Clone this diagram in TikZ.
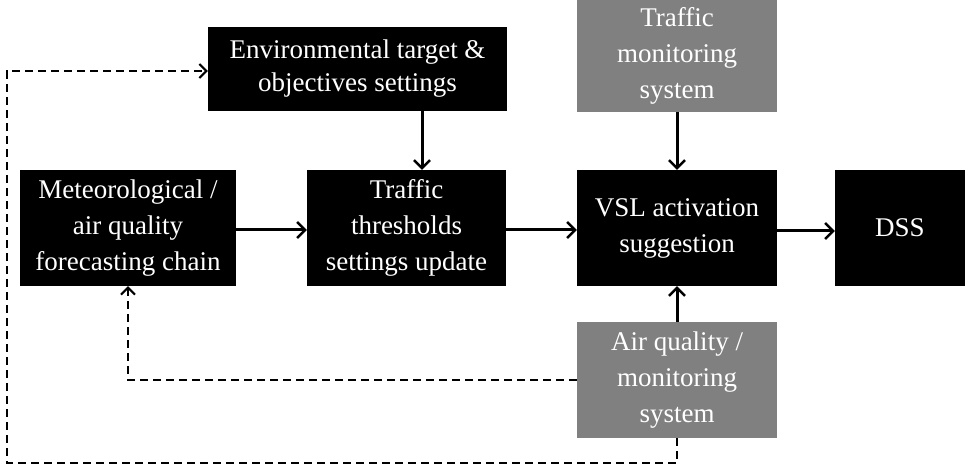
\documentclass[tikz,border=0pt]{standalone}
\usepackage{fontspec}
\setmainfont{Liberation Serif}
\usetikzlibrary{calc,arrows.meta}

\tikzset{
    blk/.style={fill=black, text=white, inner sep=0pt, align=center,
        font=\fontsize{27}{36}\selectfont},
    gry/.style={blk, fill=black!50},
    flow/.style={line width=3pt, -{Straight Barb[length=8pt,width=16pt,line width=2.5pt]}},
    back/.style={line width=2pt, dash pattern=on 8pt off 5pt,
        -{Straight Barb[length=7pt,width=14pt,line width=2pt]}}
}

\begin{document}
\begin{tikzpicture}[x=1pt,y=-1pt]
            \useasboundingbox (0,0) rectangle (970,473);

            \node (E) at (357.5,69) [blk, minimum width=299pt, minimum height=84pt, font=\fontsize{27}{33}\selectfont] {Environmental target \&\\objectives settings};
            \node (TM) at (677,56) [gry, minimum width=200pt, minimum height=112pt] {Traffic\\monitoring\\system};
            \node (M) at (128,228) [blk, minimum width=216pt, minimum height=116pt] {Meteorological /\\air quality\\forecasting chain};
            \node (T) at (406.5,228) [blk, minimum width=199pt, minimum height=116pt] {Traffic\\thresholds\\settings update};
            \node (V) at (677,228) [blk, minimum width=200pt, minimum height=116pt] {VSL activation\\suggestion};
            \node (D) at (900,228) [blk, minimum width=130pt, minimum height=116pt] {DSS};
            \node (A) at (677,380) [gry, minimum width=200pt, minimum height=116pt] {Air quality /\\monitoring\\system};

            % main flow
            \draw [flow] ($(M.east) + (0,2)$) -- ($(T.west) + (0,2)$);
            \draw [flow] ($(T.east) + (0,2)$) -- ($(V.west) + (0,2)$);
            \draw [flow] ($(V.east) + (0,3)$) -- ($(D.west) + (0,3)$);
            \draw [flow] (E.south -| 422,0) -- (T.north -| 422,0);
            \draw [flow] (TM) -- (V);
            \draw [flow] (A) -- (V);

            % feedback
            \coordinate (c1) at (128,380);
            \coordinate (c2) at (677,463);
            \coordinate (c3) at (7,463);
            \coordinate (c4) at (7,71);
            \draw [back] (A.west) -- (c1) -- (M.south);
            \draw [back] (A.south) -- (c2) -- (c3) -- (c4) -- (E.west |- c4);

        \end{tikzpicture}
\end{document}
